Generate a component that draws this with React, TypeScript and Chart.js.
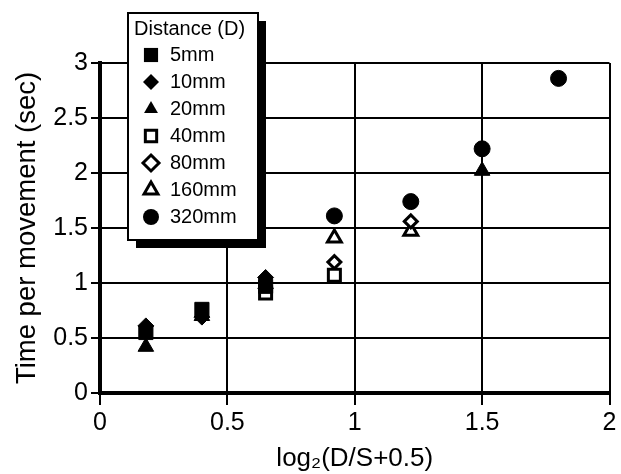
import React, { useEffect, useRef } from 'react';
import { Chart, registerables } from 'chart.js';

Chart.register(...registerables);

// ---- Data ----
const xTickValues = [0, 0.5, 1, 1.5, 2];
const yTickValues = [0, 0.5, 1, 1.5, 2, 2.5, 3];
const legendTitle = 'Distance (D)';
const xTitle = 'log₂(D/S+0.5)';
const yTitle = 'Time per movement (sec)';

const seriesLabels = ['5mm', '10mm', '20mm', '40mm', '80mm', '160mm', '320mm'];

const d5X = [0.18, 0.4, 0.65];
const d5Y = [0.55, 0.76, 0.97];
const d10X = [0.18, 0.4, 0.65];
const d10Y = [0.61, 0.69, 1.05];
const d20X = [0.18, 0.4, 0.65, 1.5];
const d20Y = [0.42, 0.7, 0.99, 2.02];
const d40X = [0.65, 0.92];
const d40Y = [0.91, 1.07];
const d80X = [0.92, 1.22];
const d80Y = [1.19, 1.56];
const d160X = [0.92, 1.22];
const d160Y = [1.41, 1.47];
const d320X = [0.92, 1.22, 1.5, 1.8];
const d320Y = [1.61, 1.74, 2.22, 2.86];

const seriesX = [d5X, d10X, d20X, d40X, d80X, d160X, d320X];
const seriesY = [d5Y, d10Y, d20Y, d40Y, d80Y, d160Y, d320Y];

// ---- Styles ----
const markerStyles = ['rect', 'rectRot', 'triangle', 'rect', 'rectRot', 'triangle', 'circle'];
const markerFilled = [true, true, true, false, false, false, true];
const markerRadius = [10, 8, 9, 8.5, 6.5, 8, 8];

const FONT = "'Liberation Sans', Arial, Helvetica, sans-serif";

function drawMarker(
  ctx: CanvasRenderingContext2D,
  style: string,
  filled: boolean,
  x: number,
  y: number,
  r: number
) {
  ctx.beginPath();
  if (style === 'rect') {
    const s = r * Math.SQRT1_2;
    ctx.rect(x - s, y - s, 2 * s, 2 * s);
  } else if (style === 'rectRot') {
    ctx.moveTo(x, y - r);
    ctx.lineTo(x + r, y);
    ctx.lineTo(x, y + r);
    ctx.lineTo(x - r, y);
    ctx.closePath();
  } else if (style === 'triangle') {
    let rad = 0;
    ctx.moveTo(x + Math.sin(rad) * r, y - Math.cos(rad) * r);
    rad += (2 * Math.PI) / 3;
    ctx.lineTo(x + Math.sin(rad) * r, y - Math.cos(rad) * r);
    rad += (2 * Math.PI) / 3;
    ctx.lineTo(x + Math.sin(rad) * r, y - Math.cos(rad) * r);
    ctx.closePath();
  } else {
    ctx.arc(x, y, r, 0, Math.PI * 2);
  }
  if (filled) {
    ctx.fillStyle = '#000';
    ctx.fill();
  } else {
    ctx.fillStyle = '#fff';
    ctx.fill();
    ctx.lineWidth = 3;
    ctx.strokeStyle = '#000';
    ctx.stroke();
  }
}

const boxLegendPlugin = {
  id: 'boxLegend',
  afterDraw(chart: any) {
    const ctx: CanvasRenderingContext2D = chart.ctx;
    const area = chart.chartArea;
    const left = area.left + 28;
    const top = area.top - 50;
    const w = 130;
    const h = 227;
    ctx.save();
    ctx.fillStyle = '#000';
    ctx.fillRect(left + 8, top + 8, w, h);
    ctx.fillStyle = '#fff';
    ctx.fillRect(left, top, w, h);
    ctx.lineWidth = 2;
    ctx.strokeStyle = '#000';
    ctx.strokeRect(left, top, w, h);

    ctx.fillStyle = '#000';
    ctx.textBaseline = 'middle';
    ctx.textAlign = 'left';
    ctx.font = `20px ${FONT}`;
    ctx.fillText(legendTitle, left + 6, top + 16);

    for (let i = 0; i < seriesLabels.length; i++) {
      const cy = top + 42 + i * 27;
      drawMarker(ctx, markerStyles[i], markerFilled[i], left + 23, cy, i === 0 ? 10 : 8);
      ctx.fillStyle = '#000';
      ctx.font = `20px ${FONT}`;
      ctx.fillText(seriesLabels[i], left + 42, cy);
    }
    ctx.restore();
  },
};

export default function App() {
  const canvasRef = useRef<HTMLCanvasElement>(null);

  useEffect(() => {
    const canvas = canvasRef.current;
    if (!canvas) return;

    const datasets = seriesLabels.map((label, i) => ({
      label,
      data: seriesX[i].map((x, j) => ({ x, y: seriesY[i][j] })),
      pointStyle: markerStyles[i],
      pointRadius: markerRadius[i],
      pointHoverRadius: markerRadius[i],
      backgroundColor: markerFilled[i] ? '#000' : '#fff',
      borderColor: '#000',
      borderWidth: markerFilled[i] ? 1 : 3,
      showLine: false,
    }));

    const chart = new Chart(canvas, {
      type: 'scatter',
      data: { datasets },
      plugins: [boxLegendPlugin],
      options: {
        responsive: false,
        animation: false,
        events: [],
        layout: { padding: { left: 0, right: 10, top: 63, bottom: 0 } },
        plugins: {
          legend: { display: false },
          tooltip: { enabled: false },
        },
        scales: {
          x: {
            type: 'linear',
            min: 0,
            max: 2,
            afterBuildTicks: (s: any) => {
              s.ticks = xTickValues.map((v) => ({ value: v }));
            },
            afterFit: (s: any) => {
              s.height = 81;
            },
            ticks: {
              color: '#000',
              font: { family: FONT, size: 25 },
              padding: 3,
              maxRotation: 0,
              callback: (v: any) => String(v),
            },
            grid: {
              color: '#000',
              lineWidth: 2,
              tickLength: 12,
              tickColor: '#000',
              tickWidth: 2,
            },
            border: { color: '#000', width: 4 },
            title: {
              display: true,
              text: xTitle,
              color: '#000',
              font: { family: FONT, size: 26 },
              padding: { top: 0, bottom: 0 },
            },
          },
          y: {
            type: 'linear',
            min: 0,
            max: 3,
            afterBuildTicks: (s: any) => {
              s.ticks = yTickValues.map((v) => ({ value: v }));
            },
            afterFit: (s: any) => {
              s.width = 100;
            },
            ticks: {
              color: '#000',
              font: { family: FONT, size: 25 },
              padding: 3,
              callback: (v: any) => String(v),
            },
            grid: {
              color: '#000',
              lineWidth: 2,
              tickLength: 9,
              tickColor: '#000',
              tickWidth: 2,
            },
            border: { color: '#000', width: 4 },
            title: {
              display: true,
              text: yTitle,
              color: '#000',
              font: { family: FONT, size: 27.5 },
              padding: { top: 11, bottom: 0 },
            },
          },
        },
      },
    } as any);

    return () => {
      chart.destroy();
    };
  }, []);

  return (
    <div style={{ position: 'fixed', left: 0, top: 0, width: 621, height: 474, background: '#fff' }}>
      <canvas ref={canvasRef} width={621} height={474} style={{ width: 621, height: 474 }} />
    </div>
  );
}
